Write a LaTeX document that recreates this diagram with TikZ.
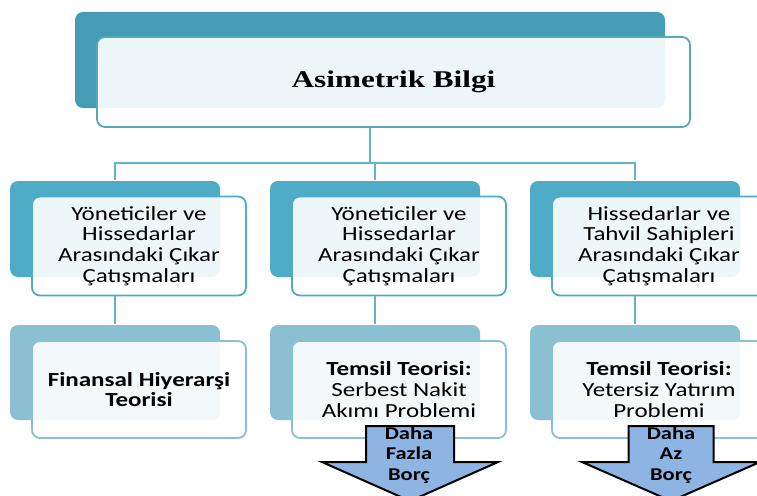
\documentclass[tikz,border=0pt]{standalone}
\usepackage{fontspec}
\setmainfont[FakeStretch=1.25]{Carlito}
\newfontfamily\titlefont[FakeStretch=1.3]{Liberation Serif}
\definecolor{topdark}{HTML}{449CB5}
\definecolor{middark}{HTML}{4FACC6}
\definecolor{lowdark}{HTML}{8BC0D2}
\definecolor{arrowblue}{HTML}{8EB4E3}
\newlength{\lw}
\setlength{\lw}{1.8pt}
\tikzstyle{every picture}+=[x=1pt,y=-1pt]
\tikzstyle{every picture}+=[line width=\lw]
\tikzstyle{back}=[rectangle,rounded corners=8pt,inner sep=0pt]
\tikzstyle{front}=[rectangle,rounded corners=8pt,fill=white,fill opacity=0.9,text opacity=1,inner sep=0pt,align=center,font=\fontsize{20}{20.7}\selectfont]
\tikzstyle{conn}=[draw=middark!90!white]
\tikzstyle{downarrow}=[fill=arrowblue,draw=black,line width=2pt,line join=miter]
\tikzstyle{arrowtext}=[align=center,font=\bfseries\fontsize{18}{20.5}\selectfont]

\begin{document}
\begin{tikzpicture}
\useasboundingbox (0,0) rectangle (757,495);
\clip (0,0) rectangle (757,495);

% top box
\node[back,fill=topdark,minimum width=590pt,minimum height=96pt] (b0) at (370,60) {};
\node[front,draw=topdark!90!white,minimum width=593pt,minimum height=90pt] (f0) at (393.5,82)
  {\titlefont\bfseries\fontsize{24}{28}\selectfont Asimetrik Bilgi};

% middle row
\node[back,fill=middark,minimum width=210pt,minimum height=96pt] (mb1) at (115,229) {};
\node[front,draw=middark,minimum width=214pt,minimum height=99pt] (mf1) at (139,246)
  {Yöneticiler ve\\Hissedarlar\\Arasındaki Çıkar\\Çatışmaları};
\node[back,fill=middark,minimum width=210pt,minimum height=96pt] (mb2) at (375,229) {};
\node[front,draw=middark,minimum width=214pt,minimum height=99pt] (mf2) at (399,246)
  {Yöneticiler ve\\Hissedarlar\\Arasındaki Çıkar\\Çatışmaları};
\node[back,fill=middark,minimum width=210pt,minimum height=96pt] (mb3) at (635,229) {};
\node[front,draw=middark,minimum width=214pt,minimum height=99pt] (mf3) at (659,246)
  {Hissedarlar ve\\Tahvil Sahipleri\\Arasındaki Çıkar\\Çatışmaları};

% bottom row
\node[back,fill=lowdark,minimum width=210pt,minimum height=95pt] (bb1) at (115,372.5) {};
\node[front,draw=lowdark,minimum width=214pt,minimum height=97pt] (bf1) at (139,389.5)
  {\bfseries Finansal Hiyerarşi\\\bfseries Teorisi};
\node[back,fill=lowdark,minimum width=210pt,minimum height=95pt] (bb2) at (375,372.5) {};
\node[front,draw=lowdark,minimum width=214pt,minimum height=97pt] (bf2) at (399,389.5)
  {\bfseries Temsil Teorisi:\\Serbest Nakit\\Akımı Problemi};
\node[back,fill=lowdark,minimum width=210pt,minimum height=95pt] (bb3) at (635,372.5) {};
\node[front,draw=lowdark,minimum width=214pt,minimum height=97pt] (bf3) at (659,389.5)
  {\bfseries Temsil Teorisi:\\Yetersiz Yatırım\\Problemi};

% connectors
\coordinate (bus) at (370,163);
\draw[conn] (b0 |- f0.south) -- (bus);
\draw[conn] (mb1.north) |- (bus) -| (mb3.north);
\draw[conn] (mb2.north) -- (mb2.north |- bus);
\draw[conn] (mb1 |- mf1.south) -- (bb1.north);
\draw[conn] (mb2 |- mf2.south) -- (bb2.north);
\draw[conn] (mb3 |- mf3.south) -- (bb3.north);

% arrows
\coordinate (a1) at (410,426);
\draw[downarrow] (a1) ++(-44,0) -- ++(88,0) -- ++(0,36) -- ++(44,0) -- ++(-88,39) -- ++(-88,-39) -- ++(44,0) -- cycle;
\node[arrowtext] (t1) at (409,455) {Daha\\Fazla\\Borç};
\coordinate (a2) at (671,426);
\draw[downarrow] (a2) ++(-42.5,0) -- ++(85,0) -- ++(0,36) -- ++(46.5,0) -- ++(-89,39) -- ++(-89,-39) -- ++(46.5,0) -- cycle;
\node[arrowtext] (t2) at (671,455) {Daha\\Az\\Borç};
\end{tikzpicture}
\end{document}
